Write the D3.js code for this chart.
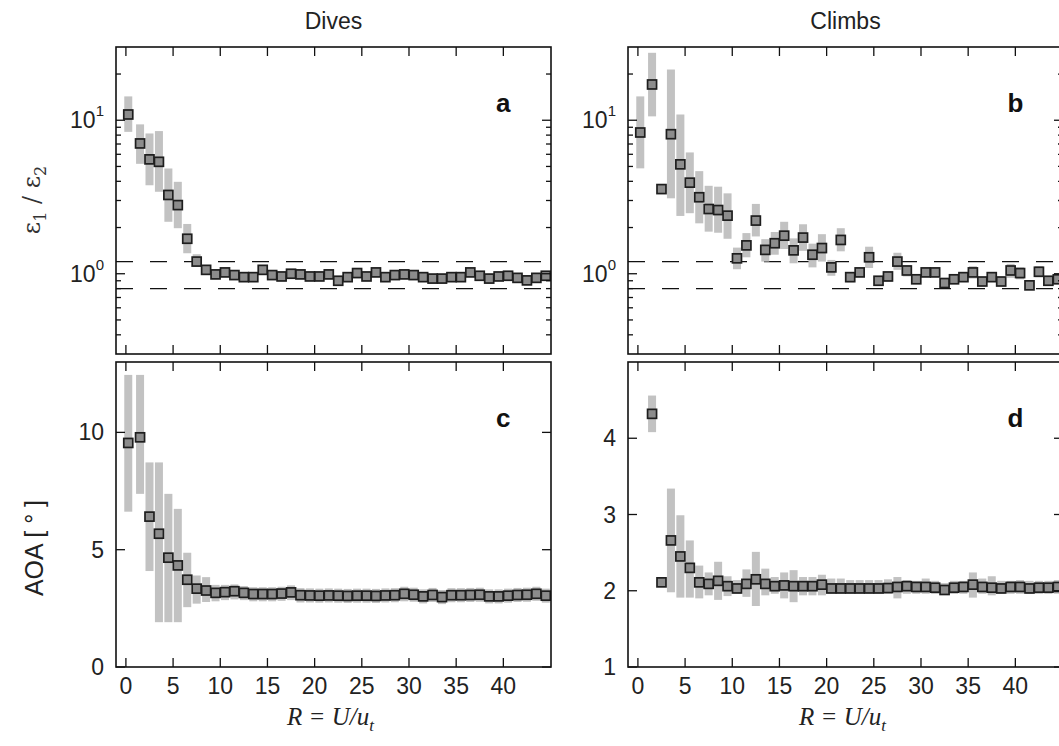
<!DOCTYPE html>
<html><head><meta charset="utf-8">
<script src="https://cdn.jsdelivr.net/npm/d3@7"></script>
<style>body{margin:0;background:#fff}svg{display:block}</style>
</head><body>
<svg id="c" width="1059" height="746"></svg>
<script>
const xs = [0.25,1.5,2.5,3.5,4.5,5.5,6.5,7.5,8.5,9.5,10.5,11.5,12.5,13.5,14.5,15.5,16.5,17.5,18.5,19.5,20.5,21.5,22.5,23.5,24.5,25.5,26.5,27.5,28.5,29.5,30.5,31.5,32.5,33.5,34.5,35.5,36.5,37.5,38.5,39.5,40.5,41.5,42.5,43.5,44.5];
const xTicks = [0,5,10,15,20,25,30,35,40];

const diveRatio   = [10.9,7.06,5.56,5.36,3.26,2.8,1.69,1.2,1.06,0.99,1.02,0.98,0.95,0.95,1.06,0.98,0.96,1.0,0.99,0.96,0.96,0.99,0.90,0.95,1.01,0.96,1.02,0.95,0.98,0.99,0.98,0.95,0.93,0.93,0.95,0.95,1.02,0.97,0.93,0.96,0.97,0.94,0.905,0.94,0.97];
const diveRatioLo = [8.4,5.2,3.77,3.42,2.18,1.98,1.36,1.12,1.0,0.94,0.97,0.93,0.9,0.9,1.0,0.93,0.91,0.95,0.94,0.91,0.91,0.94,0.85,0.9,0.96,0.91,0.97,0.9,0.93,0.94,0.93,0.9,0.88,0.88,0.9,0.9,0.97,0.92,0.88,0.91,0.92,0.89,0.86,0.89,0.92];
const diveRatioHi = [14.3,9.4,8.2,8.5,4.85,3.97,2.11,1.34,1.12,1.04,1.07,1.03,1.0,1.0,1.12,1.03,1.01,1.05,1.04,1.01,1.01,1.04,0.95,1.0,1.06,1.01,1.07,1.0,1.03,1.04,1.03,1.0,0.98,0.98,1.0,1.0,1.07,1.02,0.98,1.01,1.02,0.99,0.95,0.99,1.02];

const climbRatio   = [8.32,17.1,3.56,8.11,5.16,3.92,3.15,2.64,2.6,2.39,1.26,1.53,2.22,1.43,1.58,1.77,1.42,1.72,1.33,1.47,1.1,1.66,0.95,1.02,1.28,0.9,0.96,1.2,1.05,0.92,1.02,1.02,0.87,0.92,0.95,1.02,0.89,0.95,0.89,1.05,1.01,0.84,1.03,0.9,0.92];
const climbRatioLo = [4.86,10.6,3.56,3.1,2.38,2.48,2.13,1.88,1.85,1.69,1.07,1.28,1.75,1.2,1.33,1.45,1.17,1.41,1.1,1.2,0.97,1.4,0.88,0.95,1.09,0.84,0.89,1.06,0.96,0.87,0.95,0.95,0.82,0.87,0.9,0.93,0.84,0.9,0.84,0.94,0.92,0.8,0.95,0.85,0.87];
const climbRatioHi = [14.3,27.5,3.56,21.4,10.9,6.17,4.66,3.74,3.69,3.34,1.48,1.84,2.85,1.68,1.87,2.18,1.7,2.1,1.57,1.81,1.23,1.98,1.0,1.09,1.5,0.95,1.03,1.37,1.14,0.99,1.09,1.09,0.92,0.97,1.0,1.12,0.94,1.0,0.94,1.16,1.1,0.88,1.12,0.95,0.97];

const diveAoa   = [9.55,9.79,6.41,5.68,4.66,4.33,3.72,3.34,3.26,3.16,3.19,3.23,3.16,3.11,3.11,3.11,3.13,3.18,3.06,3.05,3.04,3.05,3.04,3.03,3.04,3.04,3.03,3.05,3.06,3.12,3.08,3.01,3.07,2.98,3.06,3.06,3.07,3.08,3.01,3.01,3.04,3.07,3.08,3.12,3.04];
const diveAoaLo = [6.62,7.38,4.09,1.91,1.91,1.91,2.55,2.7,2.77,2.8,2.85,2.88,2.85,2.8,2.8,2.8,2.82,2.85,2.75,2.75,2.74,2.75,2.74,2.73,2.74,2.74,2.73,2.75,2.76,2.8,2.78,2.71,2.77,2.68,2.76,2.76,2.77,2.78,2.71,2.71,2.74,2.77,2.78,2.82,2.74];
const diveAoaHi = [12.45,12.45,8.72,8.72,7.38,6.74,4.87,3.9,3.83,3.5,3.5,3.52,3.45,3.4,3.4,3.4,3.42,3.48,3.36,3.35,3.34,3.35,3.34,3.33,3.34,3.34,3.33,3.35,3.36,3.42,3.38,3.31,3.37,3.28,3.36,3.36,3.37,3.38,3.31,3.31,3.34,3.37,3.38,3.42,3.34];

const climbAoa   = [null,4.32,2.11,2.66,2.45,2.3,2.11,2.09,2.13,2.06,2.03,2.09,2.15,2.09,2.06,2.07,2.06,2.06,2.06,2.08,2.03,2.03,2.03,2.03,2.03,2.03,2.035,2.05,2.06,2.05,2.05,2.04,2.01,2.04,2.05,2.08,2.05,2.04,2.03,2.05,2.05,2.03,2.04,2.04,2.05];
const climbAoaLo = [null,4.08,2.11,1.98,1.91,1.91,1.9,1.94,1.88,1.93,1.96,1.92,1.8,1.94,1.96,1.9,1.85,1.94,1.94,1.94,1.96,1.96,1.96,1.96,1.96,1.96,1.96,1.9,1.96,1.96,1.96,1.96,1.95,1.96,1.96,1.91,1.96,1.94,1.96,1.96,1.96,1.96,1.96,1.96,1.96];
const climbAoaHi = [null,4.56,2.11,3.34,2.99,2.66,2.33,2.24,2.38,2.19,2.14,2.28,2.51,2.29,2.18,2.24,2.27,2.18,2.18,2.21,2.16,2.16,2.14,2.14,2.14,2.14,2.15,2.18,2.14,2.13,2.16,2.13,2.1,2.13,2.13,2.24,2.16,2.19,2.13,2.13,2.14,2.13,2.13,2.13,2.14];

const ratioRefLines = [1.2, 0.8];
const ratioMajor = [1, 10];
const ratioMinor = [0.4,0.5,0.6,0.7,0.8,0.9,2,3,4,5,6,7,8,9,20];
const diveAoaTicks = [0,5,10];
const climbAoaTicks = [1,2,3,4];
const titles = ["Dives","Climbs"];
const letters = ["a","b","c","d"];

const svg = d3.select("#c");
const W = 435;
const cols = [116, 628];
const rows = [[47, 354],[362, 667]];
const FONT = "'Liberation Sans', Arial, Helvetica, sans-serif";

function panel(idx, col, row, yScale, vals, lo, hi, opts) {
  const L = cols[col], R = L + W, T = rows[row][0], B = rows[row][1];
  const x = d3.scaleLinear().domain([-1.05, 45.05]).range([L, R]);
  const g = svg.append("g");
  const clipId = "clip" + idx;
  svg.append("clipPath").attr("id", clipId).append("rect").attr("x", L).attr("y", T).attr("width", W).attr("height", B - T);
  const m = g.append("g").attr("clip-path", `url(#${clipId})`);
  const data = xs.map((xv, i) => ({x: xv, v: vals[i], lo: lo[i], hi: hi[i]})).filter(d => d.v != null);
  if (opts.refLines) {
    m.selectAll("line.ref").data(opts.refLines).join("line")
      .attr("x1", L).attr("x2", R).attr("y1", d => yScale(d)).attr("y2", d => yScale(d))
      .attr("stroke", "#111").attr("stroke-width", 1.3).attr("stroke-dasharray", "17,17");
  }
  m.selectAll("rect.err").data(data).join("rect")
    .attr("x", d => x(d.x) - 4).attr("width", 8)
    .attr("y", d => yScale(d.hi)).attr("height", d => Math.max(0, yScale(d.lo) - yScale(d.hi)))
    .attr("fill", "#c2c2c2");
  m.selectAll("rect.pt").data(data).join("rect")
    .attr("x", d => x(d.x) - 4.5).attr("y", d => yScale(d.v) - 4.5)
    .attr("width", 9).attr("height", 9)
    .attr("fill", "#8c8c8c").attr("stroke", "#1e1e1e").attr("stroke-width", 1.7);
  g.append("rect").attr("x", L).attr("y", T).attr("width", W).attr("height", B - T)
    .attr("fill", "none").attr("stroke", "#111").attr("stroke-width", 1.6);
  xTicks.forEach(t => {
    const px = x(t);
    g.append("line").attr("x1", px).attr("x2", px).attr("y1", B).attr("y2", B - 9).attr("stroke", "#111").attr("stroke-width", 1.3);
    g.append("line").attr("x1", px).attr("x2", px).attr("y1", T).attr("y2", T + 9).attr("stroke", "#111").attr("stroke-width", 1.3);
    if (row === 1) {
      g.append("text").attr("x", px).attr("y", B + 27).attr("text-anchor", "middle")
        .attr("font-family", FONT).attr("font-size", 23).attr("fill", "#222").text(t);
    }
  });
  const yt = (v, len) => {
    const py = yScale(v);
    g.append("line").attr("x1", L).attr("x2", L + len).attr("y1", py).attr("y2", py).attr("stroke", "#111").attr("stroke-width", 1.3);
    g.append("line").attr("x1", R).attr("x2", R - len).attr("y1", py).attr("y2", py).attr("stroke", "#111").attr("stroke-width", 1.3);
  };
  opts.major.forEach(v => {
    yt(v, 9);
    const t = g.append("text").attr("x", L - 12).attr("y", yScale(v) + 8).attr("text-anchor", "end")
      .attr("font-family", FONT).attr("font-size", 23).attr("fill", "#222");
    if (opts.log) {
      t.append("tspan").text("10");
      t.append("tspan").attr("dy", -12).attr("font-size", 15).text(Math.round(Math.log10(v)));
    } else {
      t.text(v);
    }
  });
  (opts.minor || []).forEach(v => yt(v, 5));
  g.append("text").attr("x", x(40)).attr("y", T + 65).attr("text-anchor", "middle")
    .attr("font-family", FONT).attr("font-weight", "bold").attr("font-size", 26).attr("fill", "#111").text(letters[idx]);
  if (row === 0) {
    svg.append("text").attr("x", L + W / 2).attr("y", 29).attr("text-anchor", "middle")
      .attr("font-family", FONT).attr("font-size", 23).attr("fill", "#222").text(titles[col]);
  } else {
    const tx = svg.append("text").attr("x", L + W / 2 - 3).attr("y", 725).attr("text-anchor", "middle")
      .attr("font-family", "'Liberation Serif', 'Times New Roman', serif").attr("font-style", "italic")
      .attr("font-size", 25).attr("fill", "#222");
    tx.append("tspan").text("R = U/u");
    tx.append("tspan").attr("dy", 6).attr("font-size", 17).text("t");
  }
}

const yRatio = () => d3.scaleLog().domain([0.3, 30]).range([rows[0][1], rows[0][0]]);
panel(0, 0, 0, yRatio(), diveRatio, diveRatioLo, diveRatioHi, {log: true, major: ratioMajor, minor: ratioMinor, refLines: ratioRefLines});
panel(1, 1, 0, yRatio(), climbRatio, climbRatioLo, climbRatioHi, {log: true, major: ratioMajor, minor: ratioMinor, refLines: ratioRefLines});
panel(2, 0, 1, d3.scaleLinear().domain([0, 13]).range([rows[1][1], rows[1][0]]), diveAoa, diveAoaLo, diveAoaHi, {major: diveAoaTicks});
panel(3, 1, 1, d3.scaleLinear().domain([1, 5]).range([rows[1][1], rows[1][0]]), climbAoa, climbAoaLo, climbAoaHi, {major: climbAoaTicks});

const yl1 = svg.append("text").attr("transform", "translate(40,200) rotate(-90)").attr("text-anchor", "middle")
  .attr("font-family", "'DejaVu Serif', 'Liberation Serif', serif").attr("font-size", 24).attr("fill", "#333");
yl1.append("tspan").text("ε");
yl1.append("tspan").attr("dy", 6).attr("font-size", 16).text("1");
yl1.append("tspan").attr("dy", -6).text(" / ");
yl1.append("tspan").text("ε");
yl1.append("tspan").attr("dy", 6).attr("font-size", 16).text("2");

svg.append("text").attr("transform", "translate(43,548) rotate(-90)").attr("text-anchor", "middle")
  .attr("font-family", FONT).attr("font-size", 25).attr("fill", "#222").attr("xml:space", "preserve").text("AOA [ ° ]");
</script>
</body></html>
